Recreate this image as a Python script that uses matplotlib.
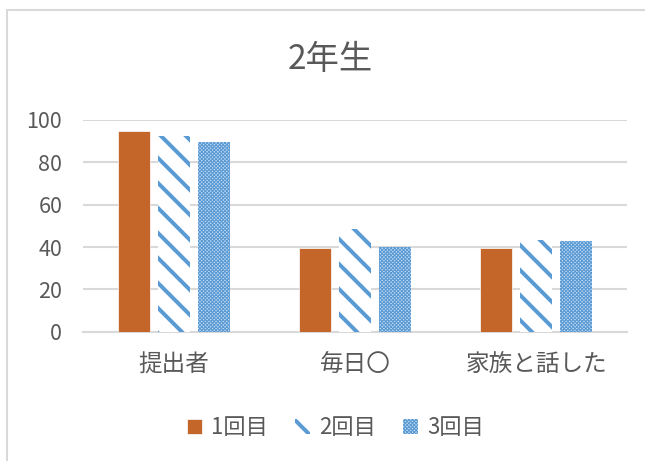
import matplotlib.pyplot as plt
import matplotlib.patches as mpatches
import numpy as np

# rendered at 75 dpi so the hatch spacing matches; k converts sizes picked at 100 dpi
DPI = 75
k = 100 / DPI

plt.rcParams['font.family'] = ['Noto Sans CJK JP', 'DejaVu Sans']
plt.rcParams['hatch.linewidth'] = 3.8

categories = ["提出者", "毎日〇", "家族と話した"]
series = ["1回目", "2回目", "3回目"]
v1 = [95, 39.4, 39.4]
v2 = [92.5, 48.7, 43.2]
v3 = [89.5, 40.2, 43]

txt = "#595959"
grid = "#D9D9D9"
orange = "#C4662A"
blue = "#5B9BD5"

fig = plt.figure(figsize=(645 / DPI, 461 / DPI), dpi=DPI)
ax = fig.add_axes([0.1287, 0.2805, 0.972 - 0.1287, 0.7397 - 0.2805])

x = np.arange(len(categories))
w = 0.1765
step = 0.22
b1 = ax.bar(x - step, v1, w, color=orange, edgecolor="white", linewidth=0.5 * k, label=series[0], zorder=3)
b2 = ax.bar(x, v2, w, facecolor="white", edgecolor=blue, linewidth=0, hatch="\\", label=series[1], zorder=3)
b3 = ax.bar(x + step, v3, w, facecolor="#C9DDF2", edgecolor=blue, linewidth=0, hatch="xxxxxxx", label=series[2], zorder=3)
for b in b3:
    b.set_hatch_linewidth(0.8 * k)

ax.set_xlim(-0.5, 2.5)
ax.set_ylim(0, 100)
ax.set_yticks(range(0, 101, 20))
ax.set_xticks(x)
ax.set_xticklabels(categories)
ax.yaxis.grid(True, color=grid, linewidth=1.5 * k, zorder=0)
ax.set_axisbelow(True)
for s in ["top", "right", "left"]:
    ax.spines[s].set_visible(False)
ax.spines["bottom"].set_color(grid)
ax.spines["bottom"].set_linewidth(1.5 * k)
ax.tick_params(axis="both", length=0, colors=txt, labelsize=15.5 * k)
ax.tick_params(axis="y", pad=15 * k)
ax.tick_params(axis="x", pad=16 * k, labelsize=17 * k)

fig.text(0.512, 0.872, "2年生", ha="center", va="center", fontsize=24 * k, color=txt)

leg = fig.legend(handles=[b1, b2, b3], labels=series, loc="center", bbox_to_anchor=(0.52, 0.072),
                 ncol=3, frameon=False, fontsize=16 * k, handlelength=0.7, handleheight=0.7,
                 handletextpad=0.4, columnspacing=1.2, labelcolor=txt)
leg.legend_handles[2].set_hatch_linewidth(0.8 * k)

fig.patches.append(mpatches.Rectangle((7 / 645, -0.1), 2, 1 - 10 / 461 + 0.1, transform=fig.transFigure,
                                      fill=False, edgecolor=grid, linewidth=1.5 * k))

fig.savefig("out.png", dpi=DPI)
